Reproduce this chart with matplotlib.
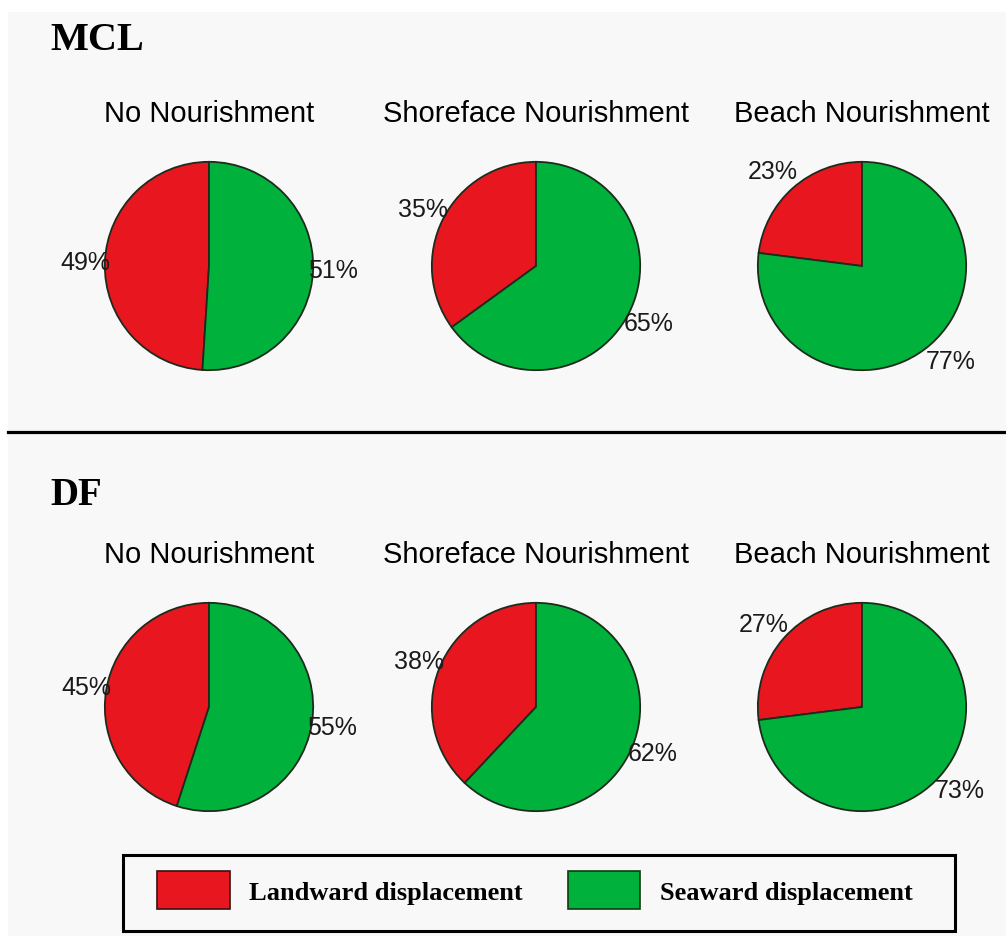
import numpy as np
import matplotlib
matplotlib.use("Agg")
import matplotlib.pyplot as plt
from matplotlib.patches import Rectangle, Patch
from matplotlib.lines import Line2D

# ---- data ----
groups = ["MCL", "DF"]
scenarios = ["No Nourishment", "Shoreface Nourishment", "Beach Nourishment"]
landward_mcl = [49, 35, 23]
seaward_mcl = [51, 65, 77]
landward_df = [45, 38, 27]
seaward_df = [55, 62, 73]
legend_labels = ["Landward displacement", "Seaward displacement"]

# ---- style ----
W, H = 1006, 937
RED = "#e8161f"
GREEN = "#00b23c"
EDGE = "#1d2b1d"
BG = "#f8f8f8"

fig = plt.figure(figsize=(W / 100, H / 100), dpi=100)
fig.patch.set_facecolor("white")
fig.patches.append(Rectangle((8 / W, 0), 1 - 8 / W, 1 - 13 / H, transform=fig.transFigure,
                             facecolor=BG, edgecolor="none", zorder=-10))

def fx(px):
    return px / W

def fy(py):
    return 1 - py / H

# separator line
fig.lines.append(Line2D([fx(8), 1.0], [fy(433), fy(433)], transform=fig.transFigure,
                        color="black", lw=2.3))

serif = "Liberation Serif"
sans = "Liberation Sans"

# group headings
fig.text(fx(50), fy(50), groups[0], family=serif, weight="bold", fontsize=29, va="baseline", ha="left")
fig.text(fx(50), fy(505), groups[1], family=serif, weight="bold", fontsize=28, va="baseline", ha="left")

centers_x = [209, 536, 862]
row_cy = [267, 708]
row_title_y = [114, 555]
data_rows = [(landward_mcl, seaward_mcl), (landward_df, seaward_df)]

half = 150
lim = 1.44
for r, (land, sea) in enumerate(data_rows):
    cy = row_cy[r]
    for i, cx in enumerate(centers_x):
        fig.text(fx(cx), fy(row_title_y[r]), scenarios[i], family=sans, fontsize=21,
                 ha="center", va="center")
        ax = fig.add_axes([fx(cx - half), fy(cy + half), 2 * half / W, 2 * half / H])
        ax.patch.set_alpha(0)
        vals = [land[i], sea[i]]
        wedges, _ = ax.pie(vals, colors=[RED, GREEN], startangle=90, counterclock=True,
                           wedgeprops=dict(edgecolor=EDGE, linewidth=1.3))
        ax.set_xlim(-lim, lim)
        ax.set_ylim(-lim, lim)
        ax.set_aspect("equal")
        ax.axis("off")
        for w, v in zip(wedges, vals):
            mid = np.deg2rad((w.theta1 + w.theta2) / 2)
            c, s = np.cos(mid), np.sin(mid)
            ha = "left" if c >= 0 else "right"
            dx = -5 if c >= 0 else 5
            dy = 22 * s
            ax.annotate(f"{v}%", xy=(c, s), xytext=(dx, dy), textcoords="offset pixels",
                        ha=ha, va="center", family=sans, fontsize=18, color="#1a1a1a")

# legend box
fig.patches.append(Rectangle((fx(123), fy(932)), (955 - 123) / W, (932 - 856) / H,
                             transform=fig.transFigure, fill=False, edgecolor="black", lw=2.2))
handles = [Patch(facecolor=RED, edgecolor="#3a1010", lw=1.2),
           Patch(facecolor=GREEN, edgecolor="#103a10", lw=1.2)]
fig.legend(handles, legend_labels, loc="center left", bbox_to_anchor=(fx(157), fy(891)),
           ncol=2, frameon=False, prop=dict(family=serif, weight="bold", size=19),
           handlelength=2.75, handleheight=1.8, handletextpad=0.75, columnspacing=1.7,
           borderpad=0, borderaxespad=0)

fig.savefig("out.png", dpi=100)
